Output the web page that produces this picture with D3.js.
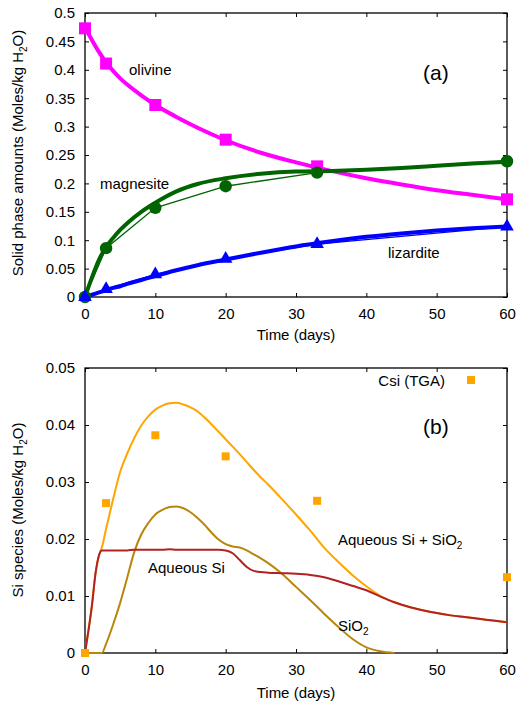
<!DOCTYPE html>
<html>
<head>
<meta charset="utf-8">
<script src="https://cdn.jsdelivr.net/npm/d3@7"></script>
<style>
  html, body { margin: 0; padding: 0; background: #fff; }
  text { font-family: Arial, "Liberation Sans", sans-serif; fill: #000; }
</style>
</head>
<body>
<svg id="chart" width="518" height="704"></svg>
<script>
// ---------- Panel (a) data ----------
const obsDays = [0, 3, 10, 20, 33, 60];
const olivineObs   = [0.473, 0.411, 0.338, 0.277, 0.230, 0.172];
const magnesiteObs = [0.000, 0.086, 0.157, 0.195, 0.219, 0.239];
const lizarditeObs = [0.000, 0.014, 0.040, 0.067, 0.093, 0.124];

const modelDaysA   = [0, 1, 2, 3, 4, 5, 6, 8, 10, 13, 16, 20, 25, 30, 35, 40, 45, 50, 55, 60];
const olivineModel   = [0.475, 0.452, 0.431, 0.413, 0.398, 0.385, 0.374, 0.355, 0.338, 0.317, 0.298, 0.276, 0.254, 0.237, 0.222, 0.209, 0.198, 0.188, 0.180, 0.172];
const magnesiteModel = [0, 0.035, 0.066, 0.088, 0.104, 0.118, 0.130, 0.150, 0.166, 0.186, 0.199, 0.209, 0.217, 0.221, 0.222, 0.224, 0.227, 0.231, 0.235, 0.238];
const lizarditeModel = [0, 0.004, 0.008, 0.012, 0.016, 0.019, 0.023, 0.030, 0.037, 0.047, 0.056, 0.066, 0.078, 0.089, 0.098, 0.106, 0.112, 0.117, 0.121, 0.124];

const xTicks = [0, 10, 20, 30, 40, 50, 60];
const yTicksA = [0, 0.05, 0.1, 0.15, 0.2, 0.25, 0.3, 0.35, 0.4, 0.45, 0.5];
const yTickLabelsA = ["0", "0.05", "0.1", "0.15", "0.2", "0.25", "0.3", "0.35", "0.4", "0.45", "0.5"];

// ---------- Panel (b) data ----------
const csiObs = [0, 0.0263, 0.0382, 0.0345, 0.0267, 0.0133];

const modelDaysB = [0, 0.5, 1, 1.5, 2, 2.4, 3, 4, 5, 6, 7, 8, 9, 10, 11, 12, 13, 14, 15, 16, 17, 18, 19, 20, 21, 22, 23, 24, 25, 26, 28, 30, 32, 34, 36, 38, 40, 42, 44, 46, 48, 50, 52, 54, 56, 58, 60];
const aqueousSi = [0, 0.0040, 0.0085, 0.0140, 0.0172, 0.0180, 0.0180, 0.0180, 0.0180, 0.0180, 0.0181, 0.0181, 0.0181, 0.0181, 0.0181, 0.0182, 0.0181, 0.0181, 0.0181, 0.0181, 0.0181, 0.0181, 0.0181, 0.0180, 0.0175, 0.0163, 0.0151, 0.0144, 0.0142, 0.0141, 0.0140, 0.0139, 0.0137, 0.0133, 0.0126, 0.0118, 0.0110, 0.0099, 0.0089, 0.0081, 0.0075, 0.0070, 0.0066, 0.0063, 0.0060, 0.0057, 0.0054];
const sio2 = [0, 0, 0, 0, 0, 0, 0.0016, 0.0050, 0.0088, 0.0132, 0.0177, 0.0208, 0.0228, 0.0243, 0.0251, 0.0256, 0.0257, 0.0254, 0.0247, 0.0237, 0.0225, 0.0211, 0.0199, 0.0191, 0.0187, 0.0185, 0.0180, 0.0173, 0.0166, 0.0158, 0.0139, 0.0116, 0.0093, 0.0069, 0.0046, 0.0025, 0.0010, 0.0003, 0, null, null, null, null, null, null, null, null];
const aqueousPlusSio2 = [0, 0.0040, 0.0085, 0.0140, 0.0172, 0.0185, 0.0218, 0.0270, 0.0318, 0.0350, 0.0377, 0.0399, 0.0415, 0.0427, 0.0434, 0.0438, 0.0439, 0.0436, 0.0431, 0.0424, 0.0413, 0.0401, 0.0388, 0.0375, 0.0362, 0.0349, 0.0335, 0.0321, 0.0308, 0.0296, 0.0270, 0.0243, 0.0215, 0.0185, 0.0160, 0.0137, 0.0117, 0.0100, 0.0089, 0.0081, 0.0075, 0.0070, 0.0066, 0.0063, 0.0060, 0.0057, 0.0054];

const yTicksB = [0, 0.01, 0.02, 0.03, 0.04, 0.05];
const yTickLabelsB = ["0", "0.01", "0.02", "0.03", "0.04", "0.05"];

// ---------- Drawing ----------
const svg = d3.select("#chart");
const FS = 15;

function panel(top, bottom, yDomain, yTicks, yLabels) {
  const x = d3.scaleLinear().domain([0, 60]).range([85, 507]);
  const y = d3.scaleLinear().domain(yDomain).range([bottom, top]);
  const g = svg.append("g");
  const fmt = (d) => yLabels[yTicks.indexOf(d)];

  const ax = g.append("g").attr("transform", `translate(0,${bottom})`)
    .call(d3.axisBottom(x).tickValues(xTicks).tickSize(-4).tickPadding(11).tickFormat(d3.format("d")));
  const axT = g.append("g").attr("transform", `translate(0,${top})`)
    .call(d3.axisTop(x).tickValues(xTicks).tickSize(-4).tickFormat(""));
  const ay = g.append("g").attr("transform", `translate(85,0)`)
    .call(d3.axisLeft(y).tickValues(yTicks).tickSize(-4).tickPadding(10).tickFormat(fmt));
  const ayR = g.append("g").attr("transform", `translate(507,0)`)
    .call(d3.axisRight(y).tickValues(yTicks).tickSize(-4).tickFormat(""));
  [ax, axT, ay, ayR].forEach(a => {
    a.select(".domain").remove();
    a.selectAll(".tick line").attr("stroke", "#000").attr("stroke-width", 1);
    a.selectAll("text").attr("font-size", FS).attr("font-family", "Arial, 'Liberation Sans', sans-serif").attr("fill", "#000");
  });
  g.append("rect").attr("x", 85).attr("y", top).attr("width", 422).attr("height", bottom - top)
    .attr("fill", "none").attr("stroke", "#000").attr("stroke-width", 1.3);
  return { x, y, g };
}

// Panel (a)
const A = panel(13, 297, [0, 0.5], yTicksA, yTickLabelsA);
svg.append("clipPath").attr("id", "clipA").append("rect").attr("x", 85).attr("y", 13).attr("width", 422).attr("height", 284);
const lineA = (vals) => d3.line().x((d, i) => A.x(modelDaysA[i])).y(d => A.y(d)).curve(d3.curveMonotoneX)(vals);
const lineObsA = (vals) => d3.line().x((d, i) => A.x(obsDays[i])).y(d => A.y(d))(vals);

const pa = svg.append("g").attr("clip-path", "url(#clipA)");
pa.append("path").attr("d", lineObsA(magnesiteObs)).attr("fill", "none").attr("stroke", "#006400").attr("stroke-width", 1.3);
pa.append("path").attr("d", lineObsA(lizarditeObs)).attr("fill", "none").attr("stroke", "#0000ff").attr("stroke-width", 1.3);
pa.append("path").attr("d", lineA(olivineModel)).attr("fill", "none").attr("stroke", "#ff00ff").attr("stroke-width", 4);
pa.append("path").attr("d", lineA(magnesiteModel)).attr("fill", "none").attr("stroke", "#006400").attr("stroke-width", 4);
pa.append("path").attr("d", lineA(lizarditeModel)).attr("fill", "none").attr("stroke", "#0000ff").attr("stroke-width", 4);

const markA = svg.append("g");
markA.selectAll(".sq").data(olivineObs).join("path")
  .attr("d", d3.symbol(d3.symbolSquare, 144))
  .attr("transform", (d, i) => `translate(${A.x(obsDays[i])},${A.y(d)})`).attr("fill", "#ff00ff");
markA.selectAll(".ci").data(magnesiteObs).join("circle")
  .attr("cx", (d, i) => A.x(obsDays[i])).attr("cy", d => A.y(d)).attr("r", 6.2).attr("fill", "#006400");
markA.selectAll(".tr").data(lizarditeObs).join("path")
  .attr("d", d3.symbol(d3.symbolTriangle, 80))
  .attr("transform", (d, i) => `translate(${A.x(obsDays[i])},${A.y(d)})`).attr("fill", "#0000ff");

function addText(x, y, txt, size, anchor) {
  return svg.append("text").attr("x", x).attr("y", y).attr("font-size", size || FS)
    .attr("text-anchor", anchor || "start").text(txt);
}
addText(129, 75, "olivine");
addText(100, 189, "magnesite");
addText(388, 258, "lizardite");
addText(423, 80, "(a)", 21);
addText(296, 340, "Time (days)", FS, "middle");

function yTitle(cx, cy, prefix) {
  const t = svg.append("text").attr("transform", `translate(${cx},${cy}) rotate(-90)`)
    .attr("text-anchor", "middle").attr("font-size", FS);
  t.append("tspan").text(prefix + " (Moles/kg H");
  t.append("tspan").attr("font-size", 10).attr("dy", 4).text("2");
  t.append("tspan").attr("dy", -4).text("O)");
}
yTitle(23, 153, "Solid phase amounts");

// Panel (b)
const B = panel(368, 653, [0, 0.05], yTicksB, yTickLabelsB);
svg.append("clipPath").attr("id", "clipB").append("rect").attr("x", 85).attr("y", 368).attr("width", 422).attr("height", 286);
const lineB = (vals) => d3.line().defined(d => d !== null).x((d, i) => B.x(modelDaysB[i])).y(d => B.y(d)).curve(d3.curveMonotoneX)(vals);
const pb = svg.append("g").attr("clip-path", "url(#clipB)");
pb.append("path").attr("d", lineB(aqueousPlusSio2)).attr("fill", "none").attr("stroke", "#ffa500").attr("stroke-width", 2);
pb.append("path").attr("d", lineB(sio2)).attr("fill", "none").attr("stroke", "#b8860b").attr("stroke-width", 2);
pb.append("path").attr("d", lineB(aqueousSi)).attr("fill", "none").attr("stroke", "#b22222").attr("stroke-width", 2);

svg.append("g").selectAll("path").data(csiObs).join("path")
  .attr("d", d3.symbol(d3.symbolSquare, 64))
  .attr("transform", (d, i) => `translate(${B.x(obsDays[i])},${B.y(d)})`).attr("fill", "#ffa500");

addText(445, 386, "Csi (TGA)", FS, "end");
svg.append("rect").attr("x", 467).attr("y", 376).attr("width", 8).attr("height", 8).attr("fill", "#ffa500");
addText(423, 434, "(b)", 21);
addText(148, 573, "Aqueous Si");
const t1 = addText(338, 545, "Aqueous Si + SiO");
t1.append("tspan").attr("font-size", 10).attr("dy", 4).text("2");
const t2 = addText(338, 631, "SiO");
t2.append("tspan").attr("font-size", 10).attr("dy", 4).text("2");
addText(296, 698, "Time (days)", FS, "middle");
yTitle(23, 510, "Si species");
</script>
</body>
</html>
